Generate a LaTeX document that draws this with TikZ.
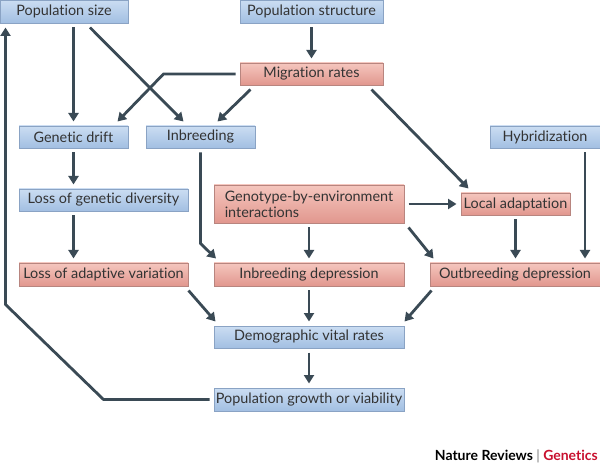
\documentclass[tikz,border=0pt]{standalone}
\usepackage{fontspec}
\setmainfont{Lato}[Ligatures=NoCommon]
\usetikzlibrary{arrows.meta}
\definecolor{arrowgrey}{HTML}{3A4A55}
\definecolor{bluetop}{HTML}{CBDDF2}
\definecolor{bluebot}{HTML}{A2BFE2}
\definecolor{blueline}{HTML}{8AA3C4}
\definecolor{redtop}{HTML}{F5C6BE}
\definecolor{redbot}{HTML}{E1978E}
\definecolor{redline}{HTML}{B8857F}
\definecolor{textgrey}{HTML}{333333}
\definecolor{genred}{HTML}{C8102E}

\begin{document}
\begin{tikzpicture}[
	x=1pt, y=-1pt,
	box/.style={
		shape=rectangle,
		minimum height=23pt,
		inner sep=0pt,
		outer sep=4.5pt,
		line width=0.8pt,
		text=textgrey,
		font=\fontsize{14.4}{16}\selectfont},
	bluebox/.style={box, draw=blueline, top color=bluetop, bottom color=bluebot},
	redbox/.style={box, draw=redline, top color=redtop, bottom color=redbot},
	link/.style={draw=arrowgrey, line width=2.8pt, -{Triangle[width=10pt,length=8.5pt]}}
	]
	\useasboundingbox (0,0) rectangle (600,465);
	
	\node[bluebox, minimum width=128pt] (popsize) at (64,11.5) {Population size};
	\node[bluebox, minimum width=143pt] (popstruct) at (311.5,11.5) {Population structure};
	\node[redbox, minimum width=143pt, minimum height=22pt] (migration) at (311.5,74) {Migration rates};
	
	\node[bluebox, minimum width=109pt, minimum height=22pt] (drift) at (73.5,137) {Genetic drift};
	\node[bluebox, minimum width=109pt, minimum height=22pt] (inbreeding) at (200.5,137) {Inbreeding};
	\node[bluebox, minimum width=110pt, minimum height=22pt] (hybrid) at (545,137) {Hybridization};
	
	\node[bluebox, minimum width=169pt, minimum height=22pt] (lossdiv) at (103.5,200) {Loss of genetic diversity};
	\node[redbox, minimum width=190pt, minimum height=38pt, align=left] (gxe) at (309,204) {Genotype-by-environment\\interactions};
	\node[redbox, minimum width=109pt, minimum height=22pt] (localad) at (515.5,204) {Local adaptation};
	
	\node[redbox, minimum width=169pt] (lossadapt) at (103.5,274.5) {Loss of adaptive variation};
	\node[redbox, minimum width=190pt] (inbdep) at (309,274.5) {Inbreeding depression};
	\node[redbox, minimum width=170pt] (outdep) at (515,274.5) {Outbreeding depression};
	
	\node[bluebox, minimum width=190pt, minimum height=22pt] (demo) at (309,337) {Demographic vital rates};
	\node[bluebox, minimum width=190pt] (growth) at (309,399.5) {Population growth or viability};
	
	\node[anchor=base east, inner sep=0pt, font=\fontsize{14}{16}\selectfont\bfseries] (credit) at (598,460)
		{Nature Reviews {\color{gray}\mdseries|} {\color{genred}Genetics}};
	
	\draw[link] (drift.north |- popsize.south) -- (drift.north);
	\draw[link] ([xshift=26pt]popsize.south) -- ([xshift=-17pt]inbreeding.north);
	\draw[link] (popstruct) -- (migration);
	\draw[link] (migration.west) -- ([xshift=-72pt]migration.west) -- ([xshift=44pt]drift.north);
	\draw[link] ([xshift=-61pt]migration.south) -- ([xshift=17pt]inbreeding.north);
	\draw[link] ([xshift=60pt]migration.south) -- ([xshift=-47pt]localad.north);
	\draw[link] ([xshift=40pt]hybrid.south) -- ([xshift=40pt]hybrid.south |- outdep.north);
	
	\draw[link] (drift) -- (drift |- lossdiv.north);
	\draw[link] (drift |- lossdiv.south) -- (drift |- lossadapt.north);
	\draw[link] (inbreeding.south) -- ([yshift=15pt]inbreeding.south |- inbdep.north) -- ([xshift=-93pt]inbdep.north);
	\draw[link] (gxe) -- (localad);
	\draw[link] (gxe) -- (inbdep);
	\draw[link] (gxe.south east) -- ([xshift=8pt]outdep.north west);
	\draw[link] (localad) -- (outdep.north -| localad);
	
	\draw[link] ([xshift=-4pt]lossadapt.south east) -- ([xshift=6pt]demo.north west);
	\draw[link] (inbdep) -- (demo);
	\draw[link] ([xshift=6pt]outdep.south west) -- ([xshift=-4pt]demo.north east);
	\draw[link] (demo) -- (growth);
	\draw[link] (growth.west) -- ++(-106,0) -- ++(-98,-95) -- ([xshift=10pt]popsize.south west);
\end{tikzpicture}
\end{document}
